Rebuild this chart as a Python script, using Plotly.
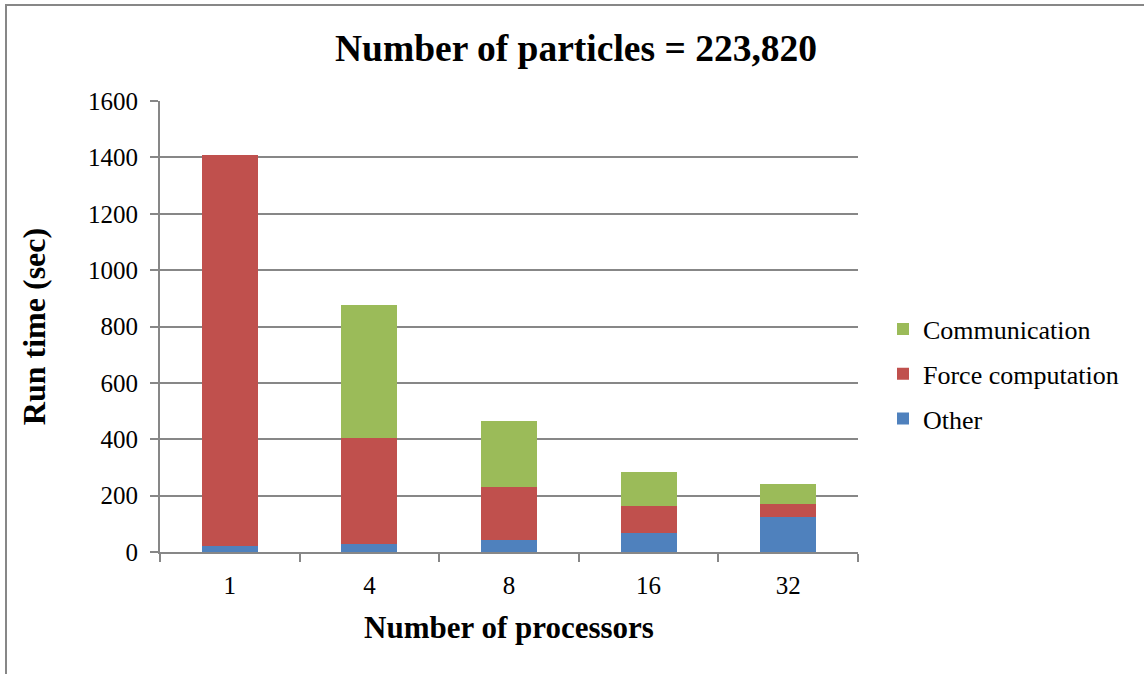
import plotly.graph_objects as go

# Run-time breakdown per processor count (seconds)
processors = ["1", "4", "8", "16", "32"]
other = [22, 27, 41, 67, 125]
force_computation = [1386, 379, 189, 95, 46]
communication = [0, 470, 233, 123, 69]

series_names = ["Other", "Force computation", "Communication"]
series_colors = ["#4F81BD", "#C0504D", "#9BBB59"]
legend_ranks = [3, 2, 1]

W, H = 1144, 674
L, R, T, B = 160, 286, 101, 122
plot_w = W - L - R
plot_h = H - T - B

FONT = "Liberation Serif"
GRID = "#878787"

fig = go.Figure()
for name, vals, color, rank in zip(series_names, [other, force_computation, communication],
                                   series_colors, legend_ranks):
    fig.add_trace(go.Bar(
        x=processors, y=vals, name=name, legendgroup=name, legendrank=rank,
        marker=dict(color=color, line=dict(width=0)),
        width=0.4,
    ))


def px_x(p):
    return (p - L) / plot_w


def px_y(p):
    return 1 - (p - T) / plot_h


fig.update_layout(
    width=W, height=H,
    margin=dict(l=L, r=R, t=T, b=B),
    paper_bgcolor="white", plot_bgcolor="white",
    barmode="stack",
    font=dict(family=FONT, color="black", size=25),
    title=dict(
        text="<b>Number of particles = 223,820</b>",
        font=dict(family=FONT, size=37.5, color="black"),
        x=576 / W, xanchor="center", xref="container",
        y=1 - 48 / H, yanchor="middle", yref="container",
    ),
    xaxis=dict(
        type="category",
        showline=True, linecolor=GRID, linewidth=2,
        ticks="outside", tickson="boundaries", ticklen=8, tickcolor=GRID, tickwidth=2,
        tickfont=dict(family=FONT, size=25, color="black"),
        ticklabelstandoff=10,
        title=dict(text="<b>Number of processors</b>",
                   font=dict(family=FONT, size=31, color="black"), standoff=18),
        showgrid=False,
    ),
    yaxis=dict(
        range=[0, 1600], dtick=200,
        showline=True, linecolor=GRID, linewidth=2,
        ticks="outside", ticklen=8, tickcolor=GRID, tickwidth=2,
        showgrid=True, gridcolor=GRID, gridwidth=2,
        zeroline=False,
        tickfont=dict(family=FONT, size=25, color="black"),
        ticklabelstandoff=7,
        title=dict(text="<b>Run time (sec)</b>",
                   font=dict(family=FONT, size=32, color="black"), standoff=33),
    ),
    legend=dict(
        x=px_x(883), xanchor="left",
        y=px_y(374), yanchor="middle",
        traceorder="grouped",
        tracegroupgap=8,
        font=dict(family=FONT, size=26, color="black"),
        bgcolor="rgba(0,0,0,0)",
        itemwidth=30,
    ),
    showlegend=True,
)

# Chart frame: top and left edges
fig.add_shape(type="line", xref="paper", yref="paper",
              x0=px_x(5), x1=px_x(W), y0=px_y(5), y1=px_y(5),
              line=dict(color="#878787", width=2))
fig.add_shape(type="line", xref="paper", yref="paper",
              x0=px_x(6), x1=px_x(6), y0=px_y(5), y1=px_y(H),
              line=dict(color="#878787", width=2))

fig.write_html("out.html")
